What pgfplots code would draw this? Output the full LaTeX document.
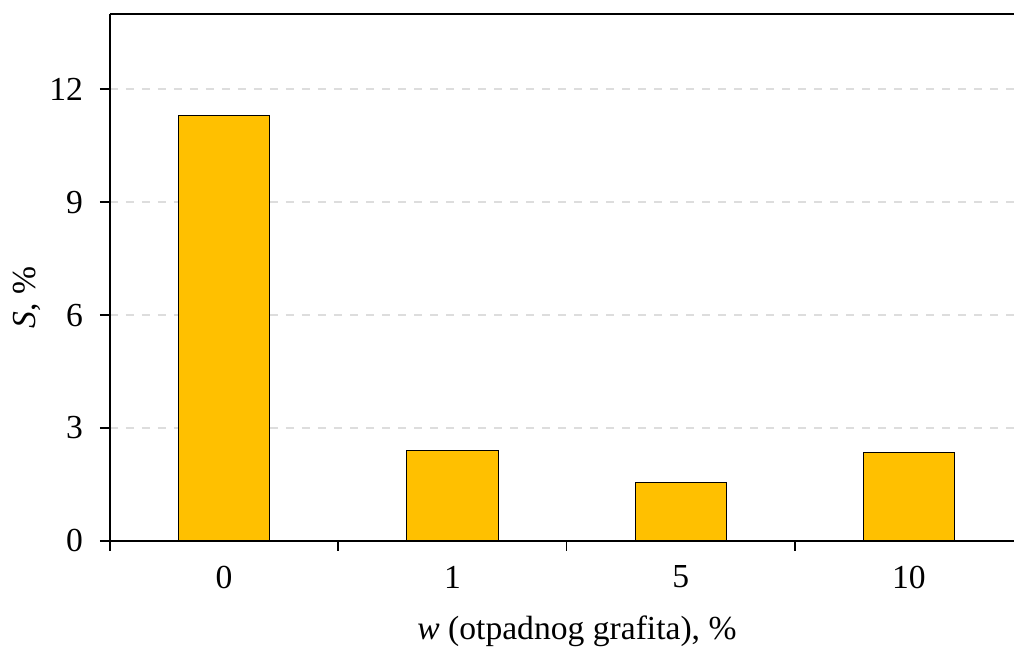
\documentclass[border=0pt]{standalone}
\usepackage{fontspec}
\setmainfont{Liberation Serif}
\usepackage{pgfplots}
\pgfplotsset{compat=1.18}
\definecolor{barfill}{HTML}{FFC000}
\definecolor{gridc}{HTML}{DDDDDD}
\begin{document}
\fontsize{12.6pt}{14pt}\selectfont
\begin{tikzpicture}
\begin{axis}[
  scale only axis,
  width=339pt, height=197.6pt,
  xmin=-0.5, xmax=3.46,
  ymin=0, ymax=14,
  axis lines=left,
  axis line style={-, line width=0.6pt},
  tick align=outside,
  ytick={0,3,6,9,12},
  major tick length=3.75pt,
  tick style={black, line width=0.6pt},
  ymajorgrids,
  grid style={gridc, dashed, line width=0.6pt},
  xtick={-0.5,0.5,1.5,2.5},
  xticklabels={},
  xmajorgrids=false,
  extra x ticks={0,1,2,3},
  extra x tick labels={0,1,5,10},
  extra x tick style={major tick length=0pt, grid=none},
  x tick label style={yshift=-5pt},
  y tick label style={xshift=-2pt},
  /pgf/number format/assume math mode=true,
  ticklabel style={font=\fontsize{12.6pt}{14pt}\selectfont},
  label style={font=\fontsize{12.6pt}{14pt}\selectfont},
  xlabel={\textit{w} (otpadnog grafita), \%},
  ylabel={\textit{S}, \%},
  xlabel style={yshift=2pt, xshift=5.6pt},
  ylabel style={yshift=-5.4pt, xshift=-7.5pt},
  clip=false,
]
\addplot[ybar, bar width=0.4, fill=barfill, draw=black, line width=0.4pt] coordinates {
  (0,11.3) (1,2.4) (2,1.55) (3,2.35)
};
\draw[line width=0.6pt] (rel axis cs:0,1) -- (rel axis cs:1,1);
\end{axis}
\pgfresetboundingbox
\path[use as bounding box] (-41.25pt,-39.75pt) rectangle (339pt,202.85pt);
\end{tikzpicture}
\end{document}
